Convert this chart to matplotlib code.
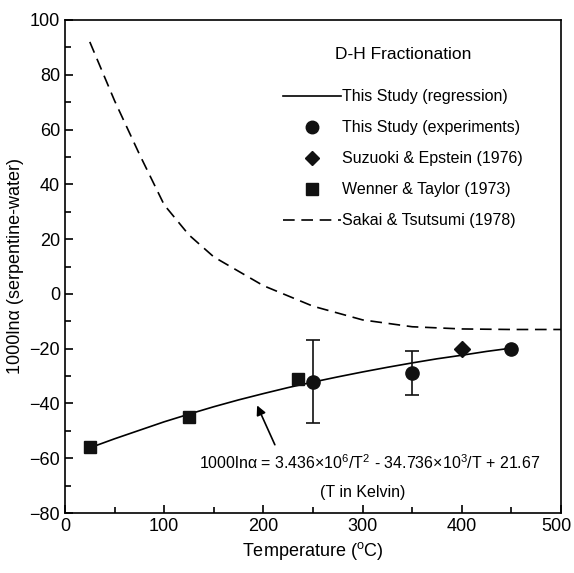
import matplotlib
matplotlib.use("Agg")
import matplotlib.pyplot as plt
from matplotlib.lines import Line2D
from matplotlib.ticker import MultipleLocator, FuncFormatter

plt.rcParams['font.family'] = ['Liberation Sans', 'DejaVu Sans']
plt.rcParams['mathtext.fontset'] = 'custom'
plt.rcParams['mathtext.rm'] = 'Liberation Sans'
plt.rcParams['mathtext.it'] = 'Liberation Sans:italic'

# Regression curve (This Study)
reg_T = [25, 50, 75, 100, 125, 150, 175, 200, 225, 250, 275, 300, 325, 350, 375, 400, 425, 450]
reg_v = [-56.2, -52.9, -49.8, -46.7, -43.9, -41.2, -38.7, -36.4, -34.2, -32.2, -30.3, -28.5,
         -26.8, -25.2, -23.7, -22.4, -21.0, -19.8]

# Experiments (This Study)
exp_T = [250, 350, 450]
exp_v = [-32, -29, -20]
exp_lo = [-47, -37, -20]
exp_hi = [-17, -21, -20]

# Suzuoki & Epstein (1976)
se_T = [400]
se_v = [-20]

# Wenner & Taylor (1973)
wt_T = [25, 125, 235]
wt_v = [-56, -45, -31]

# Sakai & Tsutsumi (1978)
st_T = [25, 50, 75, 100, 125, 150, 200, 250, 300, 350, 400, 450, 500]
st_v = [92, 70.5, 51, 32.5, 21.5, 13.5, 3, -4.5, -9.5, -12, -12.8, -13, -13]

XMAX = 500
DASH = (0, (7, 4))

fig = plt.figure(figsize=(5.74, 5.73), dpi=100)
ax = fig.add_axes([65/574, 1-513/573, 496/574, 493/573])

ax.plot(reg_T, reg_v, color='black', lw=1.2)
ax.plot(st_T, st_v, color='black', lw=1.2, ls=DASH)
yerr = [[v - lo for v, lo in zip(exp_v, exp_lo)], [hi - v for v, hi in zip(exp_v, exp_hi)]]
ax.errorbar(exp_T, exp_v, yerr=yerr, fmt='o', color='#111111', ms=9.5, capsize=5, elinewidth=1.2, capthick=1.2)
ax.plot(se_T, se_v, 'D', color='#111111', ms=8)
ax.plot(wt_T, wt_v, 's', color='#111111', ms=9)

ax.set_xlim(0, XMAX)
ax.set_ylim(-80, 100)
ax.xaxis.set_major_locator(MultipleLocator(100))
ax.xaxis.set_minor_locator(MultipleLocator(50))
ax.yaxis.set_major_locator(MultipleLocator(20))
ax.yaxis.set_minor_locator(MultipleLocator(10))
ax.xaxis.set_major_formatter(FuncFormatter(lambda v, p: '' if v >= XMAX else f'{v:.0f}'))
ax.tick_params(which='both', direction='in', top=False, right=False, labelsize=13, width=1.2)
ax.tick_params(which='major', length=6)
ax.tick_params(which='minor', length=4)
for s in ax.spines.values():
    s.set_linewidth(1.2)
# last x tick label, nudged slightly left so it stays inside the figure
ax.annotate(f'{XMAX}', xy=(XMAX, 0), xycoords=('data', 'axes fraction'),
            xytext=(-3, -3.5), textcoords='offset points', ha='center', va='top', fontsize=13)

ax.set_xlabel('Temperature ($\\mathregular{^{o}}$C)', fontsize=13)
ax.set_ylabel('1000lnα (serpentine-water)', fontsize=13)

handles = [
    Line2D([], [], color='black', lw=1.2),
    Line2D([], [], marker='o', color='#111111', ls='none', ms=9),
    Line2D([], [], marker='D', color='#111111', ls='none', ms=7),
    Line2D([], [], marker='s', color='#111111', ls='none', ms=8),
    Line2D([], [], color='black', lw=1.2, ls=DASH),
]
labels = ['This Study (regression)', 'This Study (experiments)', 'Suzuoki & Epstein (1976)',
          'Wenner & Taylor (1973)', 'Sakai & Tsutsumi (1978)']
leg = ax.legend(handles, labels, title='D-H Fractionation', loc='upper left',
                bbox_to_anchor=((277-65)/496, 0.959), frameon=False, fontsize=11.5,
                title_fontsize=12.5, handlelength=3.6, handletextpad=0.1,
                labelspacing=1.0, borderaxespad=0)
leg._legend_box.sep = 20

ax.annotate('', xy=(192.5, -39.8), xytext=(212.7, -56),
            arrowprops=dict(arrowstyle='-|>', color='black', lw=1.2, mutation_scale=14))
ax.text(307, -61.5, '1000lnα = 3.436×10$^{6}$/T$^{2}$ - 34.736×10$^{3}$/T + 21.67',
        ha='center', va='center', fontsize=11.5)
ax.text(300, -72.5, '(T in Kelvin)', ha='center', va='center', fontsize=11.5)

fig.savefig('out.png', dpi=100)
